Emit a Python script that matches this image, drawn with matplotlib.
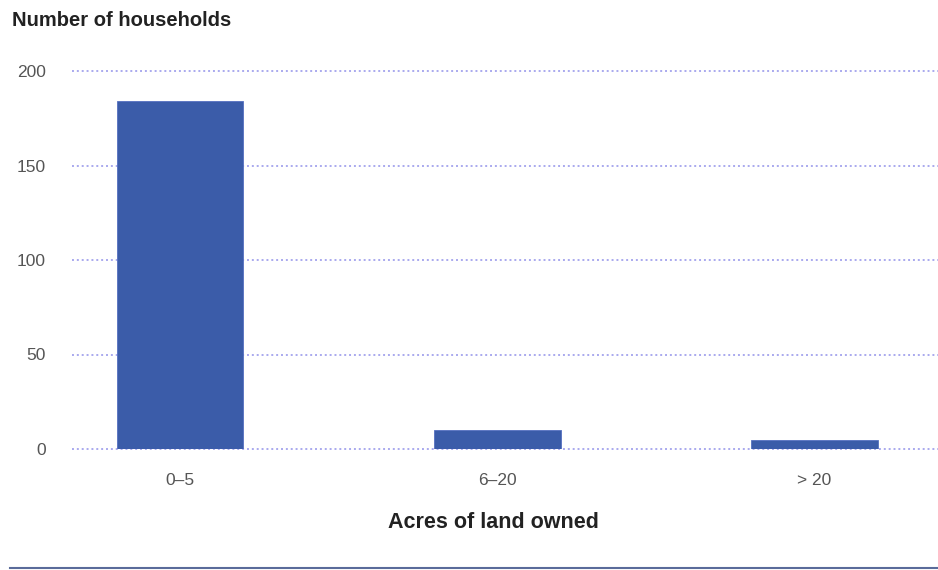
import matplotlib.pyplot as plt
from matplotlib.lines import Line2D

plt.rcParams["font.family"] = ["Liberation Sans", "DejaVu Sans"]

# data
categories = ["0\u20135", "6\u201320", "> 20"]
households = [184, 10, 5]
yticks = [0, 50, 100, 150, 200]

fig = plt.figure(figsize=(9.38, 5.70), dpi=100)
ax = fig.add_axes([0.077, 1 - 449 / 570, 0.923, (449 - 71) / 570])

x = range(len(categories))
ax.bar(x, households, width=0.4, color="#3b5ca9", edgecolor="#5570c0",
       linewidth=0.6, zorder=3)

ax.set_xlim(-0.34, 2.39)
ax.set_ylim(0, 200)
ax.set_yticks(yticks)
ax.set_xticks(list(x))
ax.set_xticklabels(categories)

# dotted grid lines
ax.yaxis.grid(True, linestyle=(0, (1, 1.5)), color="#a9a9ee", linewidth=1.4, zorder=0)
for gl in ax.get_ygridlines():
    gl.set_clip_on(False)
for s in ax.spines.values():
    s.set_visible(False)
ax.tick_params(axis="y", length=0, pad=19, labelsize=12.5, labelcolor="#555555")
ax.tick_params(axis="x", length=0, pad=17, labelsize=12.5, labelcolor="#555555")

fig.text(12 / 938, 1 - 20 / 570, "Number of households", fontsize=14.5,
         fontweight="bold", color="#222222", va="center", ha="left")
fig.text(493 / 938, 1 - 522 / 570, "Acres of land owned", fontsize=15.5,
         fontweight="bold", color="#222222", va="center", ha="center")

# bottom rule
fig.add_artist(Line2D([10 / 938, 1.0], [1 - 568 / 570] * 2, color="#5a6b9a",
                      linewidth=1.5, transform=fig.transFigure))

fig.savefig("out.png", dpi=100)
